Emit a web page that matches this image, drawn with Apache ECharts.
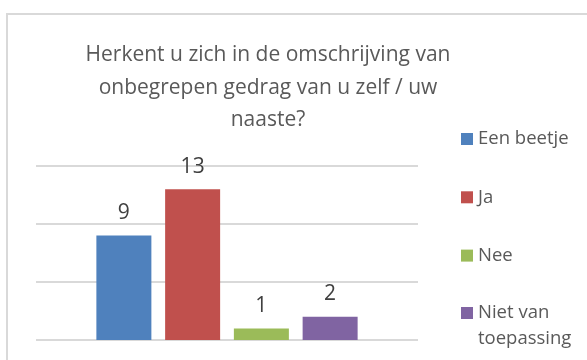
<!DOCTYPE html>
<html>
<head>
<meta charset="utf-8">
<script src="https://cdn.jsdelivr.net/npm/echarts@6/dist/echarts.min.js"></script>
<style>
  html, body { margin: 0; padding: 0; background: #fff; }
  #chart { width: 587px; height: 360px; }
</style>
</head>
<body>
<div id="chart"></div>
<script>
// Survey answers: one bar per answer option
const titleText = 'Herkent u zich in de omschrijving van\nonbegrepen gedrag van u zelf / uw\nnaaste?';
const categories = [''];
const seriesNames = ['Een beetje', 'Ja', 'Nee', 'Niet van toepassing'];
const seriesValues = [9, 13, 1, 2];
const seriesColors = ['#4f81bd', '#c0504d', '#9bbb59', '#8064a2'];
const yTicks = { min: 0, max: 15, interval: 5 };

const FONT = 'Open Sans';

const chart = echarts.init(document.getElementById('chart'), null, { renderer: 'canvas' });

const series = seriesNames.map((name, i) => ({
  name: name,
  type: 'bar',
  data: [seriesValues[i]],
  barWidth: 55,
  barGap: '25%',
  itemStyle: { color: seriesColors[i] },
  label: {
    show: true,
    position: 'top',
    distance: 12,
    fontFamily: FONT,
    fontSize: 21,
    color: '#404040'
  }
}));

const legendText = {
  fontFamily: FONT,
  fontSize: 18.5,
  color: '#595959',
  lineHeight: 26
};

const legendBase = {
  orient: 'vertical',
  left: 461,
  padding: 0,
  itemWidth: 12,
  itemHeight: 12,
  itemGap: 32.3,
  icon: 'rect',
  textStyle: legendText
};

chart.setOption({
  animation: false,
  backgroundColor: '#ffffff',
  title: {
    text: titleText,
    left: 268,
    top: 39,
    textAlign: 'center',
    padding: 0,
    textStyle: {
      fontFamily: FONT,
      fontSize: 21,
      fontWeight: 'normal',
      color: '#595959',
      lineHeight: 32.5
    }
  },
  legend: [
    Object.assign({}, legendBase, {
      top: 126,
      data: seriesNames.slice(0, 3)
    }),
    // the long entry wraps; an empty leading line keeps the icon beside "Niet van"
    Object.assign({}, legendBase, {
      top: 274,
      data: seriesNames.slice(3),
      formatter: () => '\nNiet van\ntoepassing'
    })
  ],
  grid: {
    left: 36,
    right: 169,
    top: 166,
    bottom: 20,
    containLabel: false
  },
  xAxis: {
    type: 'category',
    data: categories,
    axisLine: { show: false },
    axisTick: { show: false },
    axisLabel: { show: false }
  },
  yAxis: {
    type: 'value',
    min: yTicks.min,
    max: yTicks.max,
    interval: yTicks.interval,
    axisLine: { show: false },
    axisTick: { show: false },
    axisLabel: { show: false },
    splitLine: { lineStyle: { color: '#d9d9d9', width: 2 } }
  },
  graphic: [{
    type: 'rect',
    shape: { x: 7, y: 14, width: 640, height: 420 },
    style: { fill: 'none', stroke: '#d9d9d9', lineWidth: 2 },
    silent: true,
    z: -1
  }],
  series: series
});
</script>
</body>
</html>
